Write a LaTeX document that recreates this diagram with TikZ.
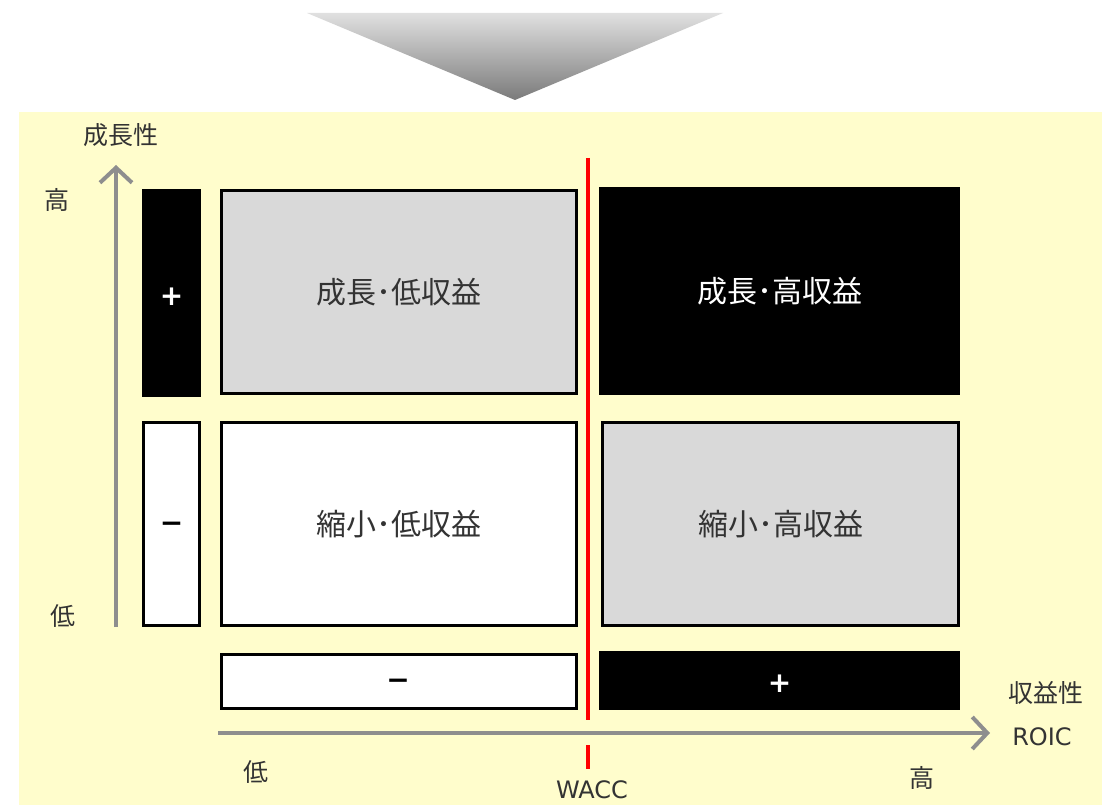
\documentclass[tikz,border=0pt]{standalone}
\usepackage{fontspec}
\setmainfont{Noto Sans CJK JP}
\newfontfamily\latinf{DejaVu Sans}
\usetikzlibrary{arrows.meta}
\definecolor{bgy}{HTML}{FFFDCC}
\definecolor{boxgray}{HTML}{D9D9D9}
\definecolor{axisgray}{HTML}{8E8E8E}
\definecolor{txt}{HTML}{333333}
\tikzset{
  cell/.style={draw=black, line width=3.5pt, inner sep=0pt, text=txt,
    font=\fontsize{30}{32}\selectfont},
  graycell/.style={cell, fill=boxgray},
  blackcell/.style={cell, fill=black, text=white},
  whitecell/.style={cell, fill=white},
  sign/.style={font=\latinf\bfseries\fontsize{28}{30}\selectfont},
  lbl/.style={text=txt, inner sep=0pt, font=\fontsize{25}{27}\selectfont},
  latlbl/.style={text=txt, inner sep=0pt, font=\latinf\fontsize{24}{26}\selectfont},
  axis/.style={draw=axisgray, line width=4pt,
    -{Straight Barb[length=15pt, width=32pt, line width=4pt]}},
  wacc/.style={draw=red, line width=4pt},
}
\begin{document}
\begin{tikzpicture}[x=1pt,y=-1pt]
\useasboundingbox (0,0) rectangle (1102,805);
\fill[white] (0,0) rectangle (1102,805);
\fill[bgy] (19,112) rectangle (1102,805);
\shade[top color=black!12, bottom color=black!52] (307,13) -- (723,13) -- (515,100) -- cycle;

% left indicator boxes
\node[blackcell, minimum width=56pt, minimum height=205pt] (lp) at (171.5,293) {};
\node[sign, text=white] (lpt) at (171.5,297) {+};
\node[whitecell, minimum width=56pt, minimum height=203pt] (lm) at (171.5,524) {};
\node[sign, text=black] (lmt) at (171.5,527) {−};

% quadrants
\node[graycell, minimum width=355pt, minimum height=203pt] (q1) at (399,292) {成長･低収益};
\node[blackcell, minimum width=358pt, minimum height=205pt] (q2) at (779.5,291) {成長･高収益};
\node[whitecell, minimum width=355pt, minimum height=203pt] (q3) at (399,524) {縮小･低収益};
\node[graycell, minimum width=356pt, minimum height=203pt] (q4) at (780.5,524) {縮小･高収益};

% bottom indicator bars
\node[whitecell, minimum width=355pt, minimum height=54pt] (bm) at (399,681.5) {};
\node[sign, text=black] (bmt) at (398,684) {−};
\node[blackcell, minimum width=358pt, minimum height=56pt] (bp) at (779.5,680.5) {};
\node[sign, text=white] (bpt) at (779.5,684) {+};

% axes
\coordinate (vs) at (116,627);
\coordinate (ve) at (116,165);
\coordinate (hs) at (218,733);
\coordinate (he) at (990,733);
\draw[axis] (vs) -- (ve);
\draw[axis] (hs) -- (he);

% WACC line
\coordinate (w1) at (588,158);
\coordinate (w2) at (588,720);
\coordinate (w3) at (588,745);
\coordinate (w4) at (588,769);
\draw[wacc] (w1) -- (w2);
\draw[wacc] (w3) -- (w4);

% labels
\node[lbl] (growth) at (121,135) {成長性};
\node[lbl] (hiY) at (57,200) {高};
\node[lbl] (loY) at (63,616) {低};
\node[lbl] (profit) at (1046,693) {収益性};
\node[latlbl] (roic) at (1042,737) {ROIC};
\node[lbl] (loX) at (256,772) {低};
\node[lbl] (hiX) at (922,778) {高};
\node[latlbl] (wlab) at (592,790) {WACC};
\end{tikzpicture}
\end{document}
